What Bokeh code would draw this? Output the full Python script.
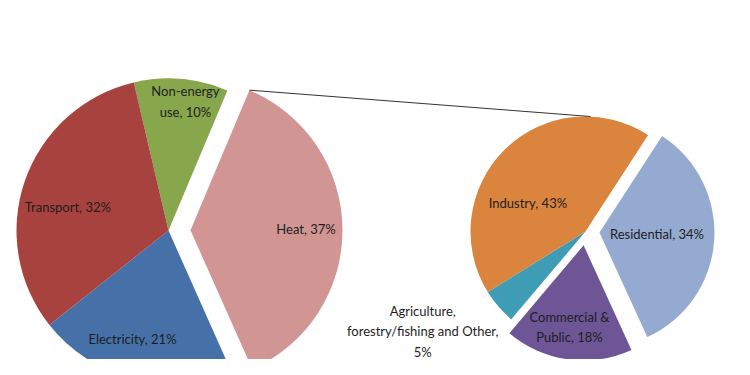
import numpy as np
from bokeh.plotting import figure
from bokeh.models import Range1d, ColumnDataSource
from bokeh.core.properties import value
from bokeh.embed import file_html
from bokeh.resources import INLINE

# ---- data ----
main_names = ["Non-energy use", "Heat", "Electricity", "Transport"]
main_values = [10, 37, 21, 32]
main_text = ["Non-energy\nuse, 10%", "Heat, 37%", "Electricity, 21%", "Transport, 32%"]
main_colors = ["#88A64C", "#D19593", "#4671A8", "#A8423F"]

sub_names = ["Residential", "Commercial & Public", "Agriculture, forestry/fishing and Other", "Industry"]
sub_values = [34, 18, 5, 43]
sub_text = ["Residential, 34%", "Commercial &\nPublic, 18%",
            "Agriculture,\nforestry/fishing and Other,\n5%", "Industry, 43%"]
sub_colors = ["#94AAD0", "#6D5596", "#3E9CB5", "#DB843D"]

# ---- layout / style ----
main_c, main_r, main_start = (168, 125), 152, -13.2
sub_c, sub_r, sub_start = (585, 124), 115, 33.0
main_explode = [0, 22, 0, 0]
sub_explode = [14, 14, 0, 0]
main_lab = [(0.855, 2.7), (0.76, 0.0), (0.75, 4.6), (0.68, -6.0)]
sub_lab = [(0.5, -3.0), (0.72, 2.0), (1.66, 9.3), (0.56, -19.0)]
FONT = "Lato"
FSIZE = "13px"

p = figure(width=734, height=359, x_range=Range1d(0, 734), y_range=Range1d(-4, 355),
           output_backend="svg", toolbar_location=None, x_axis_type=None, y_axis_type=None,
           min_border=0)
p.grid.visible = False
p.outline_line_color = None


def pie(center, r, start, values, colors, explode, labs, texts):
    v = np.array(values, dtype=float)
    ang = np.cumsum(np.concatenate([[0], v / v.sum() * 360.0])) + start
    t1, t2 = ang[:-1], ang[1:]
    mid = (t1 + t2) / 2
    ex = np.array(explode, dtype=float)
    cx = center[0] + ex * np.sin(np.radians(mid))
    cy = center[1] + ex * np.cos(np.radians(mid))
    src = ColumnDataSource(dict(x=cx, y=cy, s=np.radians(90 - t2), e=np.radians(90 - t1), c=colors))
    p.wedge(x="x", y="y", radius=r, start_angle="s", end_angle="e", fill_color="c",
            line_color=None, source=src)
    fr = np.array([l[0] for l in labs])
    da = np.array([l[1] for l in labs])
    la = np.radians(mid + da)
    lsrc = ColumnDataSource(dict(x=cx + fr * r * np.sin(la), y=cy + fr * r * np.cos(la), t=texts))
    p.text(x="x", y="y", text="t", source=lsrc, text_align="center", text_baseline="middle",
           text_font=value(FONT), text_font_size=FSIZE, text_color="#1e1e1e",
           text_line_height=1.27)
    return cx, cy, t1, t2


mcx, mcy, mt1, mt2 = pie(main_c, main_r, main_start, main_values, main_colors, main_explode,
                         main_lab, main_text)
pie(sub_c, sub_r, sub_start, sub_values, sub_colors, sub_explode, sub_lab, sub_text)

# connector line from exploded Heat slice to secondary pie
hx = mcx[1] + main_r * np.sin(np.radians(mt1[1]))
hy = mcy[1] + main_r * np.cos(np.radians(mt1[1]))
p.line(x=[hx, sub_c[0] + 5], y=[hy, sub_c[1] + sub_r], line_color="#333333", line_width=1)

open("out.html", "w").write(file_html(p, INLINE))
